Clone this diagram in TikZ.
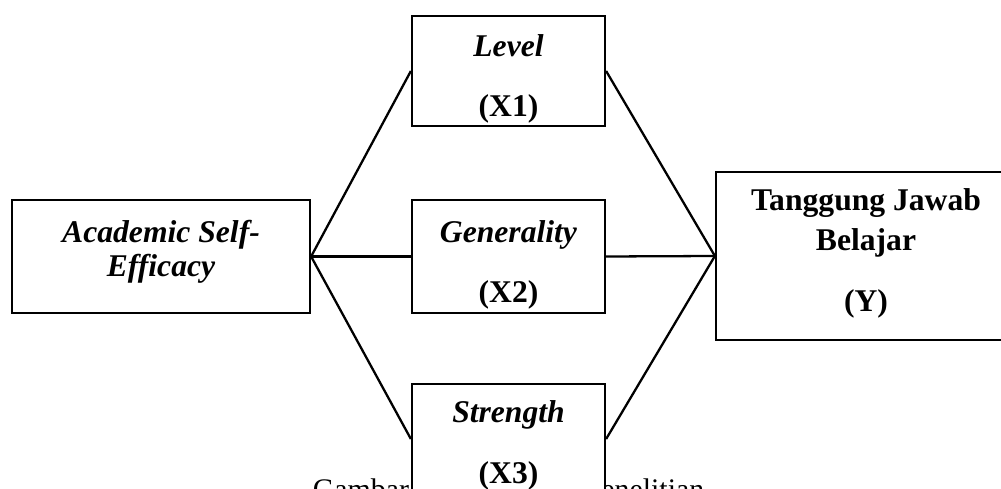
\documentclass[tikz,border=0pt]{standalone}
\usepackage{fontspec}
\setmainfont{Liberation Serif}
\usepackage{tikz}
\usetikzlibrary{positioning,calc}
\tikzset{varbox/.style={rectangle, draw=black, line width=1.3pt, fill=white, inner sep=0pt},
	vtext/.style={anchor=base, inner sep=0pt, font=\fontsize{18}{21}\selectfont\bfseries\itshape},
	btext/.style={anchor=base, inner sep=0pt, font=\fontsize{18}{21}\selectfont\bfseries},
	link/.style={line width=1.3pt}}

\begin{document}
\begin{tikzpicture}[x=0.02cm,y=-0.02cm]
		\useasboundingbox (0,0) rectangle (1001,489);
		\clip (0,0) rectangle (1001,489);
		% caption, partly behind the bottom box
		\node[anchor=base, inner sep=0pt, font=\fontsize{17}{20}\selectfont] (cap) at (508.5,500) {Gambar 2.1 Kerangka Penelitian};
		% boxes
		\node[varbox, minimum width=5.96cm, minimum height=2.26cm] (ase) at (161,256.5) {};
		\node[varbox, minimum width=3.86cm, minimum height=2.2cm] (lvl) at (508.5,71) {};
		\node[varbox, minimum width=3.86cm, minimum height=2.26cm] (gen) at (508.5,256.5) {};
		\node[varbox, minimum width=3.86cm, minimum height=2.2cm] (str) at (508.5,439) {};
		\node[varbox, minimum width=6cm, minimum height=3.36cm] (tjb) at (866,256) {};
		% texts
		\node[vtext] (aseA) at (161,243) {Academic Self-};
		\node[vtext] (aseB) at (161,277) {Efficacy};
		\node[vtext] (lvlA) at (508.5,57) {Level};
		\node[btext] (lvlB) at (508.5,117) {(X1)};
		\node[vtext] (genA) at (508.5,243) {Generality};
		\node[btext] (genB) at (508.5,303) {(X2)};
		\node[vtext] (strA) at (508.5,423) {Strength};
		\node[btext] (strB) at (508.5,483) {(X3)};
		\node[btext] (tjbA) at (866,211) {Tanggung Jawab};
		\node[btext] (tjbB) at (866,251) {Belajar};
		\node[btext] (tjbC) at (866,312) {(Y)};
		% connectors
		\draw[link] (ase.east) -- (lvl.west);
		\draw[link] (ase.east) -- (gen.west);
		\draw[link] (ase.east) -- (str.west);
		\draw[link] (lvl.east) -- (tjb.west);
		\draw[link] (gen.east) -- (tjb.west);
		\draw[link] (str.east) -- (tjb.west);
		\end{tikzpicture}
\end{document}
